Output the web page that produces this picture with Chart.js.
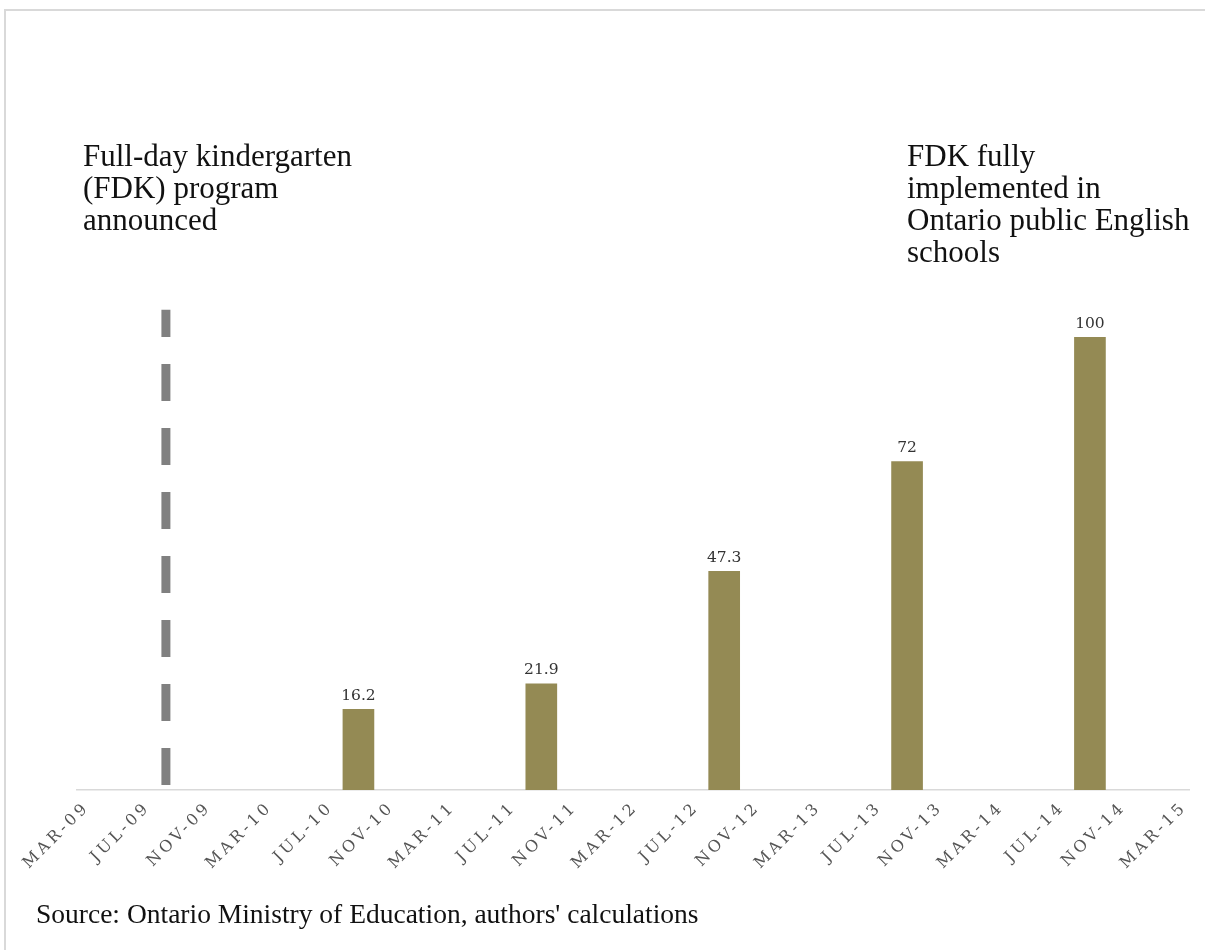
<!DOCTYPE html>
<html>
<head>
<meta charset="utf-8">
<script src="https://cdn.jsdelivr.net/npm/chart.js@4"></script>
<style>
  html, body { margin: 0; padding: 0; background: #fff; overflow: hidden; }
  #wrap { position: relative; width: 1205px; height: 950px; }
  #frame { position: absolute; left: 4px; top: 9px; width: 1300px; height: 1100px;
           border-left: 2px solid #d9d9d9; border-top: 2px solid #d9d9d9; }
  canvas { position: absolute; left: 0; top: 0; }
  .note { position: absolute; font-family: "Liberation Serif", "Times New Roman", serif;
          font-size: 31px; line-height: 32px; color: #111; white-space: nowrap; }
  #src { position: absolute; left: 36px; top: 898px; font-family: "Liberation Serif", serif;
         font-size: 27.5px; line-height: 32px; color: #111; white-space: nowrap; }
</style>
</head>
<body>
<div id="wrap">
  <div id="frame"></div>
  <canvas id="c" width="1205" height="950"></canvas>
  <div class="note" style="left:83px; top:140px;">Full-day kindergarten<br>(FDK) program<br>announced</div>
  <div class="note" style="left:907px; top:140px;">FDK fully<br>implemented in<br>Ontario public English<br>schools</div>
  <div id="src">Source: Ontario Ministry of Education, authors' calculations</div>
</div>
<script>
// ---- data ----
const tickLabels = ['MAR-09','JUL-09','NOV-09','MAR-10','JUL-10','NOV-10','MAR-11','JUL-11','NOV-11',
                    'MAR-12','JUL-12','NOV-12','MAR-13','JUL-13','NOV-13','MAR-14','JUL-14','NOV-14','MAR-15'];
const barDates  = ['2010-09-01','2011-09-01','2012-09-01','2013-09-01','2014-09-01'];
const barValues = [16.2, 21.9, 47.3, 72, 100];
const announceDate = '2009-08-12';

// ---- helpers ----
const MONTHS = ['JAN','FEB','MAR','APR','MAY','JUN','JUL','AUG','SEP','OCT','NOV','DEC'];
function labelToMonth(lbl) {
  const [m, yy] = lbl.split('-');
  return (2000 + parseInt(yy, 10) - 2009) * 12 + (MONTHS.indexOf(m) - 2);
}
function dateToMonth(s) {
  const [y, m, d] = s.split('-').map(Number);
  return (y - 2009) * 12 + (m - 3) + (d - 1) / 30;
}
const tickMonths = tickLabels.map(labelToMonth);
const barPoints = barDates.map((d, i) => ({ x: dateToMonth(d), y: barValues[i] }));
const annX = dateToMonth(announceDate);

const Y_MIN = -2, Y_MAX = 110;
const LINE_TOP = 106.2;

const spacingPlugin = {
  id: 'spacing',
  beforeDraw(chart) { chart.ctx.letterSpacing = '3.5px'; },
  beforeDatasetsDraw(chart) { chart.ctx.letterSpacing = '0px'; }
};
const labelPlugin = {
  id: 'barLabels',
  afterDatasetsDraw(chart) {
    const ctx = chart.ctx;
    const meta = chart.getDatasetMeta(0);
    ctx.save();
    ctx.letterSpacing = '0px';
    ctx.font = '15.5px "DejaVu Serif", serif';
    ctx.fillStyle = '#333333';
    ctx.textAlign = 'center';
    ctx.textBaseline = 'bottom';
    meta.data.forEach((el, i) => {
      ctx.fillText(String(barValues[i]), el.x, el.y - 6);
    });
    ctx.restore();
  }
};

new Chart(document.getElementById('c'), {
  type: 'bar',
  data: {
    datasets: [
      {
        type: 'bar',
        data: barPoints,
        backgroundColor: '#948a54',
        barThickness: 31,
        base: Y_MIN,
        order: 2
      },
      {
        type: 'line',
        data: [{ x: annX, y: Y_MIN }, { x: annX, y: LINE_TOP }],
        borderColor: '#808080',
        borderWidth: 9,
        borderDash: [37, 27],
        borderDashOffset: 59,
        borderCapStyle: 'butt',
        pointRadius: 0,
        fill: false,
        order: 1
      }
    ]
  },
  options: {
    responsive: false,
    animation: false,
    devicePixelRatio: 1,
    layout: { padding: { left: 76.5, right: 16, top: 293, bottom: 0 } },
    plugins: { legend: { display: false }, tooltip: { enabled: false } },
    scales: {
      x: {
        type: 'linear',
        min: -0.5,
        max: 72.5,
        offset: false,
        grid: { display: false, drawTicks: false },
        border: { display: true, color: '#d9d9d9', width: 1.5 },
        afterBuildTicks(scale) { scale.ticks = tickMonths.map(v => ({ value: v })); },
        ticks: {
          autoSkip: false,
          minRotation: 45,
          maxRotation: 45,
          padding: 8,
          labelOffset: 3,
          color: '#555555',
          font: { family: '"DejaVu Serif", serif', size: 16 },
          callback(value) {
            const i = tickMonths.indexOf(value);
            return i >= 0 ? tickLabels[i] : '';
          }
        },
        afterFit(scale) { scale.height = 160; scale.paddingLeft = 0; scale.paddingRight = 0; }
      },
      y: {
        type: 'linear',
        display: false,
        min: Y_MIN,
        max: Y_MAX
      }
    }
  },
  plugins: [spacingPlugin, labelPlugin]
});
</script>
</body>
</html>
